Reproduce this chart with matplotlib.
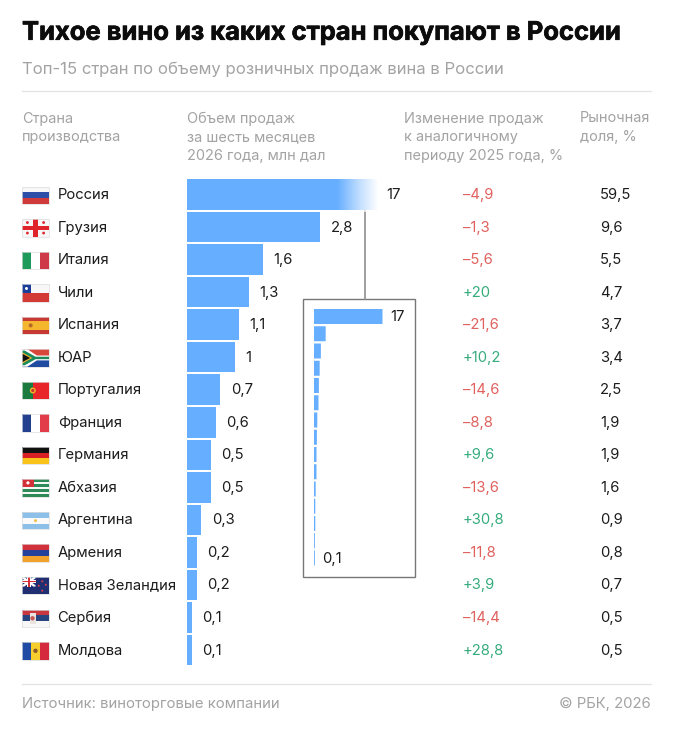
import numpy as np
import matplotlib
matplotlib.use("Agg")
import matplotlib.pyplot as plt
import matplotlib.patheffects as pe
from matplotlib.patches import Rectangle, Polygon, Circle
from matplotlib.colors import LinearSegmentedColormap

countries = ["Россия", "Грузия", "Италия", "Чили", "Испания", "ЮАР", "Португалия", "Франция",
             "Германия", "Абхазия", "Аргентина", "Армения", "Новая Зеландия", "Сербия", "Молдова"]
volumes = [17, 2.8, 1.6, 1.3, 1.1, 1, 0.7, 0.6, 0.5, 0.5, 0.3, 0.2, 0.2, 0.1, 0.1]
volume_labels = ["17", "2,8", "1,6", "1,3", "1,1", "1", "0,7", "0,6", "0,5", "0,5", "0,3", "0,2", "0,2", "0,1", "0,1"]
changes = ["–4,9", "–1,3", "–5,6", "+20", "–21,6", "+10,2", "–14,6", "–8,8", "+9,6", "–13,6", "+30,8", "–11,8", "+3,9", "–14,4", "+28,8"]
shares = ["59,5", "9,6", "5,5", "4,7", "3,7", "3,4", "2,5", "1,9", "1,9", "1,6", "0,9", "0,8", "0,7", "0,5", "0,5"]

W, H = 673, 731
FONT = "Inter"
BLUE = "#66AEFF"
DARK = "#1c1c1c"
GREY = "#a3a3a3"
RED = "#E0615E"
GREEN = "#35AC7C"
PX = 72 / 100

plt.rcParams["font.family"] = [FONT, "DejaVu Sans"]
fig = plt.figure(figsize=(W / 100, H / 100), dpi=100, facecolor="white")

def px_axes(l, t, r, b, **kw):
    return fig.add_axes([l / W, 1 - b / H, (r - l) / W, (b - t) / H], **kw)

bg = px_axes(0, 0, W, H)
bg.set_xlim(0, W); bg.set_ylim(H, 0); bg.axis("off")

title = bg.text(22, 33.5, "Тихое вино из каких стран покупают в России", fontsize=25.55 * PX, fontweight="bold",
                color="#0c0c0c", va="center", ha="left")
title.set_path_effects([pe.withStroke(linewidth=0.5, foreground="#0c0c0c")])
bg.text(22, 69.5, "Топ-15 стран по объему розничных продаж вина в России", fontsize=16.7 * PX,
        color=GREY, va="center", ha="left")
for y in (90.5, 683.5):
    bg.plot([22, 651], [y, y], color="#e4e4e4", lw=0.9)

HS = 14.5 * PX
for x, txt in [(22, "Страна\nпроизводства"),
               (187, "Объем продаж\nза шесть месяцев\n2026 года, млн дал"),
               (404, "Изменение продаж\nк аналогичному\nпериоду 2025 года, %"),
               (580, "Рыночная\nдоля, %")]:
    bg.text(x, 111.5, txt, fontsize=HS, color=GREY, va="top", ha="left", linespacing=1.42)

bg.text(22, 704, "Источник: виноторговые компании", fontsize=14.9 * PX, color=GREY, va="center")
bg.text(651, 704, "© РБК, 2026", fontsize=14.9 * PX, color=GREY, va="center", ha="right")

# Row geometry
Y0, STEP = 194.5, 32.54
rows = [Y0 + STEP * i for i in range(len(countries))]
FS = 14.8 * PX
for i, y in enumerate(rows):
    name_x = 57 if countries[i] == "Сербия" else 58
    bg.text(name_x, y + 0.5, countries[i], fontsize=FS, color=DARK, va="center")
    ch = changes[i]
    bg.text(463, y + 0.5, ch, fontsize=FS, va="center", color=GREEN if ch.startswith("+") else RED)
    bg.text(600, y + 0.5, shares[i], fontsize=FS, va="center", color=DARK)

# Main bars
SCALE = 47.5
ax = px_axes(187, Y0 - STEP / 2, 378, rows[-1] + STEP / 2)
ax.axis("off"); ax.patch.set_alpha(0)
ax.barh(range(len(volumes)), volumes, height=30.5 / STEP, color=BLUE, linewidth=0)
fade = LinearSegmentedColormap.from_list("fade", [(1, 1, 1, 0), (1, 1, 1, 0.55), (1, 1, 1, 1)])
ax.imshow(np.linspace(0, 1, 128).reshape(1, -1), cmap=fade, aspect="auto", zorder=3,
          extent=(150 / SCALE, 191 / SCALE, 0.55, -0.55))
ax.set_xlim(0, 191 / SCALE); ax.set_ylim(14.5, -0.5)
for i, (v, lab) in enumerate(zip(volumes, volume_labels)):
    off = 8.5 if i == 0 else 10.5
    ax.annotate(lab, (min(v, 191 / SCALE), i), xytext=(off * PX, -0.5 * PX), textcoords="offset points",
                fontsize=FS, color=DARK, va="center", ha="left", annotation_clip=False)

# Inset
bg.add_patch(Rectangle((303, 298.5), 112, 278.5, fc="white", ec="#777777", lw=1, zorder=2))
bg.plot([365, 365], [204, 298.5], color="#8f8f8f", lw=1.2, zorder=6)
ISTEP = 17.25
IY0 = 316.5
ins = px_axes(314, IY0 - ISTEP / 2, 422, IY0 + ISTEP * 14.5)
ins.axis("off"); ins.patch.set_alpha(0)
ins.set_xlim(0, 108 / 4.0); ins.set_ylim(14.5, -0.5)
inset_bars = ins.barh(range(len(volumes)), volumes, height=15 / ISTEP, color=BLUE, linewidth=0)
for b in inset_bars:
    b.set_snap(False)
    b.set_x(-0.08)
    b.set_width(b.get_width() + 0.2)
for i in (0, 14):
    ins.annotate(volume_labels[i], (volumes[i], i), xytext=(8 * PX, -0.5 * PX), textcoords="offset points",
                 fontsize=FS, color=DARK, va="center", ha="left")

# Flags (decoration, drawn in unit coordinates of each flag)
def flag(i, draw):
    fx, fy, fw, fh = 22, rows[i] - 8, 27, 17.5
    T = lambda u, v: (fx + u * fw, fy + v * fh)
    def rect(u0, v0, u1, v1, c):
        (x0, y0), (x1, y1) = T(u0, v0), T(u1, v1)
        bg.add_patch(Rectangle((x0, y0), x1 - x0, y1 - y0, fc=c, ec="none", zorder=3))
    def poly(pts, c):
        bg.add_patch(Polygon([T(*p) for p in pts], closed=True, fc=c, ec="none", zorder=3))
    def dot(u, v, r, c):
        bg.add_patch(Circle(T(u, v), r, fc=c, ec="none", zorder=4))
    draw(rect, poly, dot)
    bg.add_patch(Rectangle((fx, fy), fw, fh, fc="none", ec="#dddddd", lw=0.5, zorder=5))

def stripes_h(rect, cols):
    n = len(cols)
    for k, c in enumerate(cols):
        rect(0, k / n, 1, (k + 1) / n, c)

def stripes_v(rect, cols):
    n = len(cols)
    for k, c in enumerate(cols):
        rect(k / n, 0, (k + 1) / n, 1, c)

W_ = "#F7F7F7"

def russia(r, p, d): stripes_h(r, [W_, "#2B4FA8", "#CF3A3A"])
def georgia(r, p, d):
    r(0, 0, 1, 1, W_); r(0.42, 0, 0.58, 1, "#E0242C"); r(0, 0.39, 1, 0.61, "#E0242C")
    for u in (0.2, 0.8):
        for v in (0.2, 0.8):
            d(u, v, 1.4, "#E0242C")
def italy(r, p, d): stripes_v(r, ["#1E9A5B", "#FFFFFF", "#CE3A48"])
def chile(r, p, d):
    r(0, 0, 1, 0.5, W_); r(0, 0.5, 1, 1, "#D33A35"); r(0, 0, 0.33, 0.5, "#1A3E9A"); d(0.165, 0.25, 1.5, "white")
def spain(r, p, d):
    r(0, 0, 1, 1, "#C63A33"); r(0, 0.25, 1, 0.75, "#F4B62C"); d(0.32, 0.5, 2, "#B8672B")
def rsa(r, p, d):
    r(0, 0, 1, 0.5, "#D8483A"); r(0, 0.5, 1, 1, "#1F4CA0")
    p([(0, 0), (0.2, 0), (0.55, 0.36), (1, 0.36), (1, 0.64), (0.55, 0.64), (0.2, 1), (0, 1)], "#FFFFFF")
    p([(0, 0.08), (0.1, 0.08), (0.5, 0.43), (1, 0.43), (1, 0.57), (0.5, 0.57), (0.1, 0.92), (0, 0.92)], "#1B8A5A")
    p([(0, 0.17), (0.38, 0.5), (0, 0.83)], "#F4B62C")
    p([(0, 0.25), (0.3, 0.5), (0, 0.75)], "#111111")
def portugal(r, p, d):
    r(0, 0, 0.4, 1, "#1B7A3D"); r(0.4, 0, 1, 1, "#E8262A"); d(0.4, 0.5, 3, "#F0B429"); d(0.4, 0.5, 1.6, "#C8332C")
def france(r, p, d): stripes_v(r, ["#23408F", "#FFFFFF", "#E23B4A"])
def germany(r, p, d): stripes_h(r, ["#111111", "#D81F26", "#F9C31B"])
def abkhazia(r, p, d):
    stripes_h(r, ["#2E8B57", W_, "#2E8B57", W_, "#2E8B57", W_, "#2E8B57"])
    r(0, 0, 0.45, 0.43, "#D4303A"); d(0.22, 0.2, 1.6, "white")
def argentina(r, p, d):
    stripes_h(r, ["#8CC0E8", "#FAFAFA", "#8CC0E8"]); d(0.5, 0.5, 1.5, "#F0C24A")
def armenia(r, p, d): stripes_h(r, ["#D2303A", "#24409A", "#F2A22C"])
def nz(r, p, d):
    r(0, 0, 1, 1, "#1F2F72")
    p([(0, 0), (0.08, 0), (0.5, 0.47), (0.5, 0.55), (0.42, 0.55), (0, 0.08)], "white")
    p([(0.5, 0), (0.42, 0), (0, 0.47), (0, 0.55), (0.08, 0.55), (0.5, 0.08)], "white")
    r(0, 0.2, 0.5, 0.35, "white"); r(0.18, 0, 0.32, 0.55, "white")
    r(0, 0.24, 0.5, 0.31, "#D8303A"); r(0.22, 0, 0.28, 0.55, "#D8303A")
    for u, v in [(0.75, 0.25), (0.62, 0.5), (0.88, 0.45), (0.75, 0.78)]:
        d(u, v, 1.0, "#E04048")
def serbia(r, p, d):
    stripes_h(r, ["#C8383E", "#27457F", W_]); r(0.28, 0.2, 0.5, 0.85, "#E9E4E0"); d(0.39, 0.5, 2.2, "#C8585A")
def moldova(r, p, d):
    stripes_v(r, ["#1F4BA5", "#F7CF2D", "#D42A3C"]); d(0.5, 0.5, 2.2, "#8C5A2B")

for i, f in enumerate([russia, georgia, italy, chile, spain, rsa, portugal, france, germany,
                       abkhazia, argentina, armenia, nz, serbia, moldova]):
    flag(i, f)

fig.savefig("out.png", dpi=100, facecolor="white")
